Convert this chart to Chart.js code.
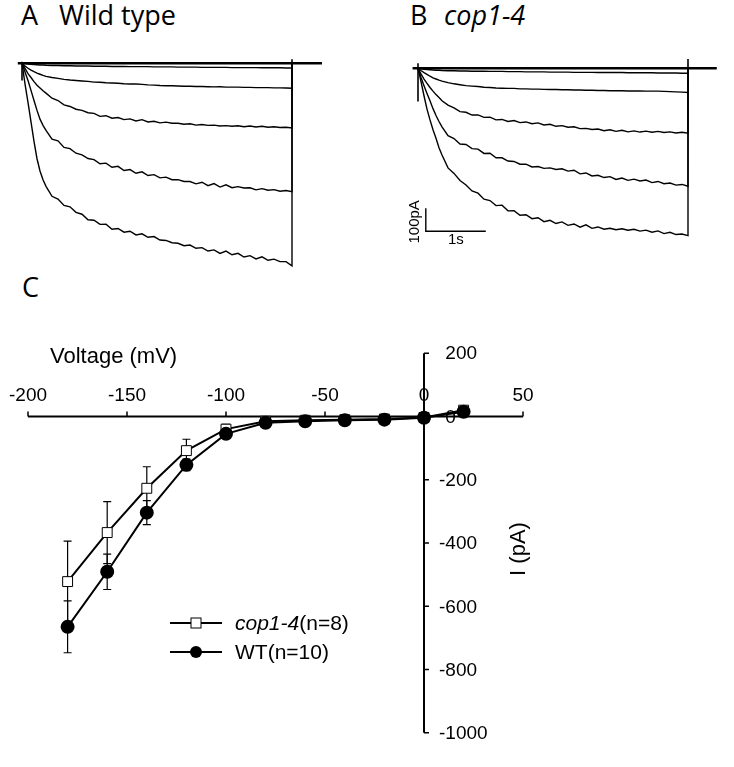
<!DOCTYPE html>
<html>
<head>
<meta charset="utf-8">
<script src="https://cdn.jsdelivr.net/npm/chart.js@4.4.1/dist/chart.umd.min.js"></script>
<style>
  body { margin: 0; background: #fff; width: 734px; height: 767px; position: relative; overflow: hidden; }
  canvas { position: absolute; }
  .lbl { position: absolute; font-family: "Open Sans", sans-serif; font-size: 27px; line-height: 1; color: #000; white-space: nowrap; }
</style>
</head>
<body>
<div class="lbl" style="left:21px;top:1px">A</div>
<div class="lbl" style="left:59px;top:1px">Wild type</div>
<div class="lbl" style="left:410px;top:1px">B</div>
<div class="lbl" style="left:444px;top:1px;font-style:italic">cop1-4</div>
<div class="lbl" style="left:22px;top:273px">C</div>

<canvas id="chartC" width="734" height="767" style="left:0;top:0"></canvas>
<canvas id="chartA" width="312" height="221" style="left:16px;top:54px"></canvas>
<canvas id="chartB" width="330" height="193" style="left:394px;top:59px"></canvas>

<script>
// ---- current traces (A, B): time in s, current in pA ----
var times = [0, 0.05, 0.1, 0.15, 0.2, 0.25, 0.3, 0.35, 0.4, 0.5, 0.6, 0.7, 0.8, 0.9, 1.0, 1.1, 1.2, 1.3, 1.4, 1.5,
  1.6, 1.7, 1.8, 1.9, 2.0, 2.1, 2.2, 2.3, 2.4, 2.5, 2.6, 2.7, 2.8, 2.9, 3.0, 3.1, 3.2, 3.3, 3.4, 3.5,
  3.6, 3.7, 3.8, 3.9, 4.0, 4.1, 4.2, 4.3, 4.4, 4.5];

var wtTrace1 = [0,-2,-4,-5,-6,-7,-8,-8,-9,-10,-10,-11,-11,-12,-12,-12,-13,-13,-13,-14,-14,-14,-15,-15,-15,-15,-16,-16,-16,-16,-17,-17,-17,-17,-18,-18,-18,-18,-18,-19,-19,-19,-19,-19,-20,-20,-20,-20,-21,-21];
var wtTrace2 = [0,-12,-22,-30,-37,-43,-48,-53,-57,-62,-66,-70,-73,-75,-77,-79,-82,-83,-85,-86,-87,-89,-90,-90,-92,-94,-95,-97,-98,-98,-99,-100,-100,-101,-101,-102,-103,-102,-104,-104,-104,-105,-105,-106,-106,-106,-107,-107,-108,-109];
var wtTrace3 = [0,-22,-45,-62,-80,-96,-108,-120,-130,-152,-162,-181,-188,-200,-205,-215,-218,-231,-228,-239,-236,-245,-242,-251,-245,-255,-252,-259,-256,-261,-261,-265,-263,-269,-266,-270,-269,-273,-271,-274,-272,-276,-273,-277,-274,-278,-276,-279,-278,-281];
var wtTrace4 = [0,-38,-75,-118,-162,-205,-243,-270,-292,-330,-337,-366,-371,-391,-398,-414,-419,-437,-434,-452,-448,-466,-462,-478,-472,-488,-484,-498,-495,-506,-506,-514,-514,-524,-517,-532,-523,-538,-528,-541,-536,-542,-541,-550,-545,-552,-549,-556,-553,-558];
var wtTrace5 = [0,-90,-170,-255,-340,-415,-468,-506,-535,-578,-590,-618,-624,-648,-656,-680,-682,-700,-699,-721,-718,-734,-730,-746,-741,-756,-753,-768,-770,-780,-782,-793,-790,-804,-801,-816,-811,-826,-816,-832,-826,-842,-836,-850,-841,-856,-851,-862,-862,-880];

var copTrace1 = [0,-3,-5,-6,-7,-8,-9,-9,-10,-11,-11,-12,-12,-13,-13,-13,-14,-14,-14,-15,-15,-15,-16,-16,-16,-16,-17,-17,-17,-17,-18,-18,-18,-18,-19,-19,-19,-19,-19,-20,-20,-20,-20,-20,-21,-21,-21,-21,-22,-22];
var copTrace2 = [0,-10,-19,-27,-35,-42,-47,-52,-56,-63,-68,-72,-76,-78,-80,-83,-84,-86,-87,-88,-88,-90,-90,-91,-91,-92,-93,-93,-94,-94,-95,-95,-96,-96,-97,-97,-98,-98,-98,-99,-99,-99,-100,-100,-100,-101,-102,-103,-104,-106];
var copTrace3 = [0,-25,-48,-66,-84,-100,-115,-128,-142,-161,-173,-189,-192,-204,-203,-214,-213,-225,-223,-232,-228,-237,-234,-242,-238,-247,-244,-253,-250,-257,-255,-263,-262,-267,-265,-272,-268,-275,-270,-277,-273,-278,-274,-279,-275,-280,-277,-282,-279,-283];
var copTrace4 = [0,-40,-76,-110,-142,-176,-206,-232,-255,-294,-306,-330,-332,-350,-352,-371,-370,-390,-390,-404,-406,-418,-418,-430,-428,-436,-434,-441,-438,-448,-444,-460,-456,-469,-466,-476,-472,-484,-478,-488,-483,-491,-487,-498,-493,-503,-500,-509,-506,-514];
var copTrace5 = [0,-58,-120,-178,-225,-268,-305,-346,-378,-434,-458,-489,-508,-534,-544,-570,-576,-598,-596,-621,-620,-640,-638,-655,-651,-668,-662,-676,-669,-684,-678,-692,-682,-697,-691,-701,-697,-703,-699,-705,-701,-709,-705,-714,-708,-720,-714,-724,-722,-729];

// holding baseline span (s) and capacitive spikes [up, down] in pA at pulse on / off
var baselineA = [-0.07, 5.0];
var baselineB = [-0.09, 4.98];
var spikesA = [[6, -75], [17, -32]];
var spikesB = [[22, -145], [48, -36]];
var pulseEnd = 4.5;

// scale bar in B: 100 pA x 1 s
var barOrigin = [0.13, -710];
var barI = 100;
var barT = 1;

// ---- I-V curve (C) ----
var voltages = [-180, -160, -140, -120, -100, -80, -60, -40, -20, 0, 20];
var copMean = [-522, -367, -227, -108, -40, -15, -12, -10, -8, -3, 20];
var copSE   = [128, 98, 68, 36, 15, 8, 5, 5, 5, 5, 8];
var wtMean  = [-665, -491, -304, -153, -55, -20, -15, -12, -10, -4, 15];
var wtSE    = [82, 56, 38, 18, 10, 8, 5, 5, 5, 5, 6];

var xTicks = [-200, -150, -100, -50, 0, 50];
var yTicks = [200, 0, -200, -400, -600, -800, -1000];

var FONT = '"Liberation Sans", Arial, sans-serif';

function traceData(vals) {
  var pts = times.map(function(t, i) { return { x: t, y: vals[i] }; });
  pts.push({ x: pulseEnd, y: 0 });
  return pts;
}

function lineSet(data, width) {
  return { data: data, showLine: true, borderColor: "#000", borderWidth: width,
           pointRadius: 0, tension: 0, fill: false };
}

function traceChart(id, traces, base, spikes, xr, yr, extra) {
  var sets = [lineSet([{ x: base[0], y: 0 }, { x: base[1], y: 0 }], 2.4)];
  traces.forEach(function(tr) { sets.push(lineSet(traceData(tr), 1.4)); });
  sets.push(lineSet([{ x: 0, y: spikes[0][0] }, { x: 0, y: spikes[0][1] }], 1.6));
  sets.push(lineSet([{ x: pulseEnd, y: spikes[1][0] }, { x: pulseEnd, y: spikes[1][1] }], 1.6));
  (extra || []).forEach(function(s) { sets.push(s); });
  return new Chart(document.getElementById(id), {
    type: "scatter",
    data: { datasets: sets },
    options: {
      responsive: false,
      animation: false,
      events: [],
      layout: { padding: 0 },
      plugins: { legend: { display: false }, tooltip: { enabled: false } },
      scales: {
        x: { type: "linear", display: false, min: xr[0], max: xr[1] },
        y: { type: "linear", display: false, min: yr[0], max: yr[1] }
      }
    },
    plugins: id === "chartB" ? [scaleBarText] : []
  });
}

var scaleBarText = {
  id: "scaleBarText",
  afterDatasetsDraw: function(chart) {
    var ctx = chart.ctx, xs = chart.scales.x, ys = chart.scales.y;
    ctx.save();
    ctx.fillStyle = "#000";
    ctx.font = "15px " + FONT;
    ctx.textAlign = "center";
    ctx.textBaseline = "middle";
    ctx.fillText(barT + "s", xs.getPixelForValue(barOrigin[0] + barT / 2), ys.getPixelForValue(barOrigin[1]) + 9);
    ctx.translate(xs.getPixelForValue(barOrigin[0]) - 11, ys.getPixelForValue(barOrigin[1] + barI / 2) + 2);
    ctx.rotate(-Math.PI / 2);
    ctx.fillText(barI + "pA", 0, 0);
    ctx.restore();
  }
};

var scaleBar = lineSet([
  { x: barOrigin[0], y: barOrigin[1] + barI },
  { x: barOrigin[0], y: barOrigin[1] },
  { x: barOrigin[0] + barT, y: barOrigin[1] }
], 1.4);

traceChart("chartA", [wtTrace1, wtTrace2, wtTrace3, wtTrace4, wtTrace5], baselineA, spikesA,
  [-0.1, 5.1], [-920, 40]);
traceChart("chartB", [copTrace1, copTrace2, copTrace3, copTrace4, copTrace5], baselineB, spikesB,
  [-0.4, 5.1], [-800, 40], [scaleBar]);

// ---- panel C ----
var ivAxes = {
  id: "ivAxes",
  beforeDatasetsDraw: function(chart) {
    var ctx = chart.ctx, xs = chart.scales.x, ys = chart.scales.y;
    var x0 = xs.getPixelForValue(0), y0 = ys.getPixelForValue(0);
    ctx.save();
    ctx.strokeStyle = "#000";
    ctx.fillStyle = "#000";
    ctx.lineWidth = 2;
    ctx.beginPath();
    ctx.moveTo(xs.getPixelForValue(xTicks[0]), y0);
    ctx.lineTo(xs.getPixelForValue(xTicks[xTicks.length - 1]), y0);
    ctx.moveTo(x0, ys.getPixelForValue(yTicks[0]));
    ctx.lineTo(x0, ys.getPixelForValue(yTicks[yTicks.length - 1]));
    ctx.stroke();

    ctx.lineWidth = 1.5;
    ctx.beginPath();
    xTicks.forEach(function(v) {
      var px = xs.getPixelForValue(v);
      ctx.moveTo(px, y0); ctx.lineTo(px, y0 - 5);
    });
    yTicks.forEach(function(v) {
      var py = ys.getPixelForValue(v);
      ctx.moveTo(x0, py); ctx.lineTo(x0 + 5, py);
    });
    ctx.stroke();

    ctx.font = "19px " + FONT;
    ctx.textAlign = "center";
    ctx.textBaseline = "alphabetic";
    xTicks.forEach(function(v) {
      ctx.fillText(String(v), xs.getPixelForValue(v), y0 - 15);
    });
    var minusW = ctx.measureText("-").width;
    ctx.textAlign = "left";
    ctx.textBaseline = "middle";
    yTicks.forEach(function(v) {
      ctx.fillText(String(v), x0 + 15 + (v < 0 ? 0 : minusW), ys.getPixelForValue(v) + 1);
    });

    ctx.font = "22px " + FONT;
    ctx.textBaseline = "alphabetic";
    ctx.fillText("Voltage (mV)", 50, 363);
    ctx.save();
    ctx.translate(519, 549);
    ctx.rotate(-Math.PI / 2);
    ctx.textAlign = "center";
    ctx.textBaseline = "middle";
    ctx.fillText("I (pA)", 0, 0);
    ctx.restore();

    // error bars
    ctx.lineWidth = 1.2;
    [[copMean, copSE], [wtMean, wtSE]].forEach(function(s) {
      ctx.beginPath();
      voltages.forEach(function(v, i) {
        var px = xs.getPixelForValue(v);
        var top = ys.getPixelForValue(s[0][i] + s[1][i]);
        var bot = ys.getPixelForValue(s[0][i] - s[1][i]);
        ctx.moveTo(px, top); ctx.lineTo(px, bot);
        ctx.moveTo(px - 4, top); ctx.lineTo(px + 4, top);
        ctx.moveTo(px - 4, bot); ctx.lineTo(px + 4, bot);
      });
      ctx.stroke();
    });

    // legend
    ctx.lineWidth = 2;
    ctx.beginPath();
    ctx.moveTo(170, 623); ctx.lineTo(222, 623);
    ctx.moveTo(170, 652); ctx.lineTo(222, 652);
    ctx.stroke();
    ctx.fillStyle = "#fff";
    ctx.lineWidth = 1;
    ctx.fillRect(191, 618, 10, 10);
    ctx.strokeRect(191, 618, 10, 10);
    ctx.fillStyle = "#000";
    ctx.beginPath();
    ctx.arc(196, 652, 6, 0, Math.PI * 2);
    ctx.fill();
    ctx.font = "italic 21px " + FONT;
    ctx.textAlign = "left";
    ctx.textBaseline = "middle";
    ctx.fillText("cop1-4", 235, 624);
    var w = ctx.measureText("cop1-4").width;
    ctx.font = "21px " + FONT;
    ctx.fillText("(n=8)", 235 + w, 624);
    ctx.fillText("WT(n=10)", 235, 653);
    ctx.restore();
  }
};

function ivPoints(mean) {
  return voltages.map(function(v, i) { return { x: v, y: mean[i] }; });
}

new Chart(document.getElementById("chartC"), {
  type: "scatter",
  data: {
    datasets: [
      { label: "WT(n=10)", data: ivPoints(wtMean), showLine: true, borderColor: "#000", borderWidth: 2,
        pointStyle: "circle", pointRadius: 6, pointBackgroundColor: "#000", pointBorderColor: "#000", tension: 0 },
      { label: "cop1-4(n=8)", data: ivPoints(copMean), showLine: true, borderColor: "#000", borderWidth: 2,
        pointStyle: "rect", pointRadius: 7, pointBackgroundColor: "#fff", pointBorderColor: "#000",
        pointBorderWidth: 1, tension: 0 }
    ]
  },
  options: {
    responsive: false,
    animation: false,
    events: [],
    layout: { padding: { left: 28, right: 211, top: 353.2, bottom: 34.2 } },
    plugins: { legend: { display: false }, tooltip: { enabled: false } },
    scales: {
      x: { type: "linear", display: false, min: -200, max: 50 },
      y: { type: "linear", display: false, min: -1000, max: 200 }
    }
  },
  plugins: [ivAxes]
});
</script>
</body>
</html>
